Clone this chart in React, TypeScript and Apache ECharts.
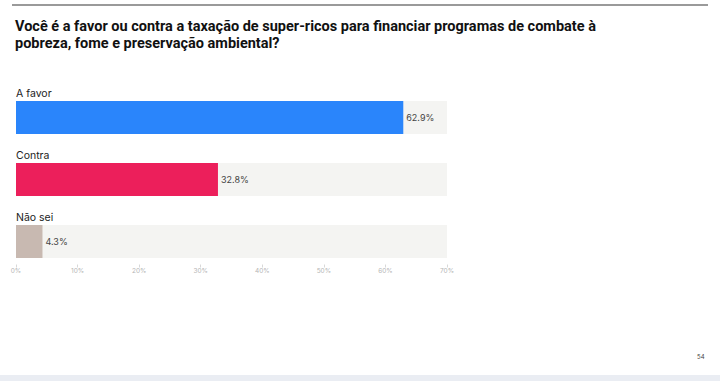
import React, { useEffect, useRef } from "react";
import * as echarts from "echarts";

const categories = ["A favor", "Contra", "Não sei"];
const values = [62.9, 32.8, 4.3];
const barColors = ["#2a85fb", "#ec1f5b", "#c8b9b1"];
const xTicks = [0, 10, 20, 30, 40, 50, 60, 70];
const title =
  "Você é a favor ou contra a taxação de super-ricos para financiar programas de combate à\npobreza, fome e preservação ambiental?";
const pageNumber = "54";

export default function App() {
  const ref = useRef<HTMLDivElement>(null);
  useEffect(() => {
    document.body.style.margin = "0";
    const chart = echarts.init(ref.current!, undefined, { renderer: "svg" });
    chart.setOption({
      animation: false,
      backgroundColor: "#ffffff",
      textStyle: { fontFamily: "Inter, 'Noto Sans', sans-serif" },
      title: {
        text: title,
        left: 10,
        top: 13,
        textStyle: {
          fontFamily: "Roboto, 'Liberation Sans', sans-serif",
          fontSize: 14.5,
          fontWeight: "bold",
          color: "#111111",
          lineHeight: 17,
        },
      },
      graphic: [
        {
          type: "line",
          shape: { x1: 12, y1: 5, x2: 708, y2: 5 },
          style: { stroke: "#9a9a9a", lineWidth: 2 },
        },
        {
          type: "rect",
          shape: { x: 0, y: 375, width: 720, height: 6 },
          style: { fill: "#eaedf3" },
        },
        {
          type: "text",
          x: 697,
          y: 356,
          style: {
            text: pageNumber,
            fontSize: 6,
            fill: "#444",
            verticalAlign: "middle",
            fontFamily: "Inter, sans-serif",
          },
        },
      ],
      grid: { left: 16, right: 273, top: 86.5, height: 186 },
      xAxis: {
        type: "value",
        min: 0,
        max: 70,
        interval: 10,
        offset: -8,
        splitLine: { show: false },
        axisLine: { show: false },
        axisTick: { show: true, length: 3, lineStyle: { color: "#d8d8d8" } },
        axisLabel: {
          margin: 3,
          fontSize: 6.5,
          color: "#b5b5b5",
          formatter: (v: number) => (xTicks.includes(v) ? `${v}%` : ""),
        },
      },
      yAxis: {
        type: "category",
        data: categories,
        inverse: true,
        axisLine: { show: false },
        axisTick: { show: false },
        axisLabel: {
          inside: true,
          margin: 0,
          align: "left",
          verticalAlign: "bottom",
          padding: [0, 0, 19, 0],
          fontSize: 10.5,
          color: "#222222",
        },
      },
      series: [
        {
          type: "bar",
          data: values.map((v, i) => ({ value: v, itemStyle: { color: barColors[i] } })),
          barWidth: 33,
          showBackground: true,
          backgroundStyle: { color: "#f4f4f2" },
          label: {
            show: true,
            position: "right",
            distance: 3,
            fontSize: 9,
            color: "#444444",
            formatter: (p: any) => `${p.value.toFixed(1)}%`,
          },
        },
      ],
    });
    return () => chart.dispose();
  }, []);
  return <div ref={ref} style={{ width: 720, height: 381 }} />;
}
